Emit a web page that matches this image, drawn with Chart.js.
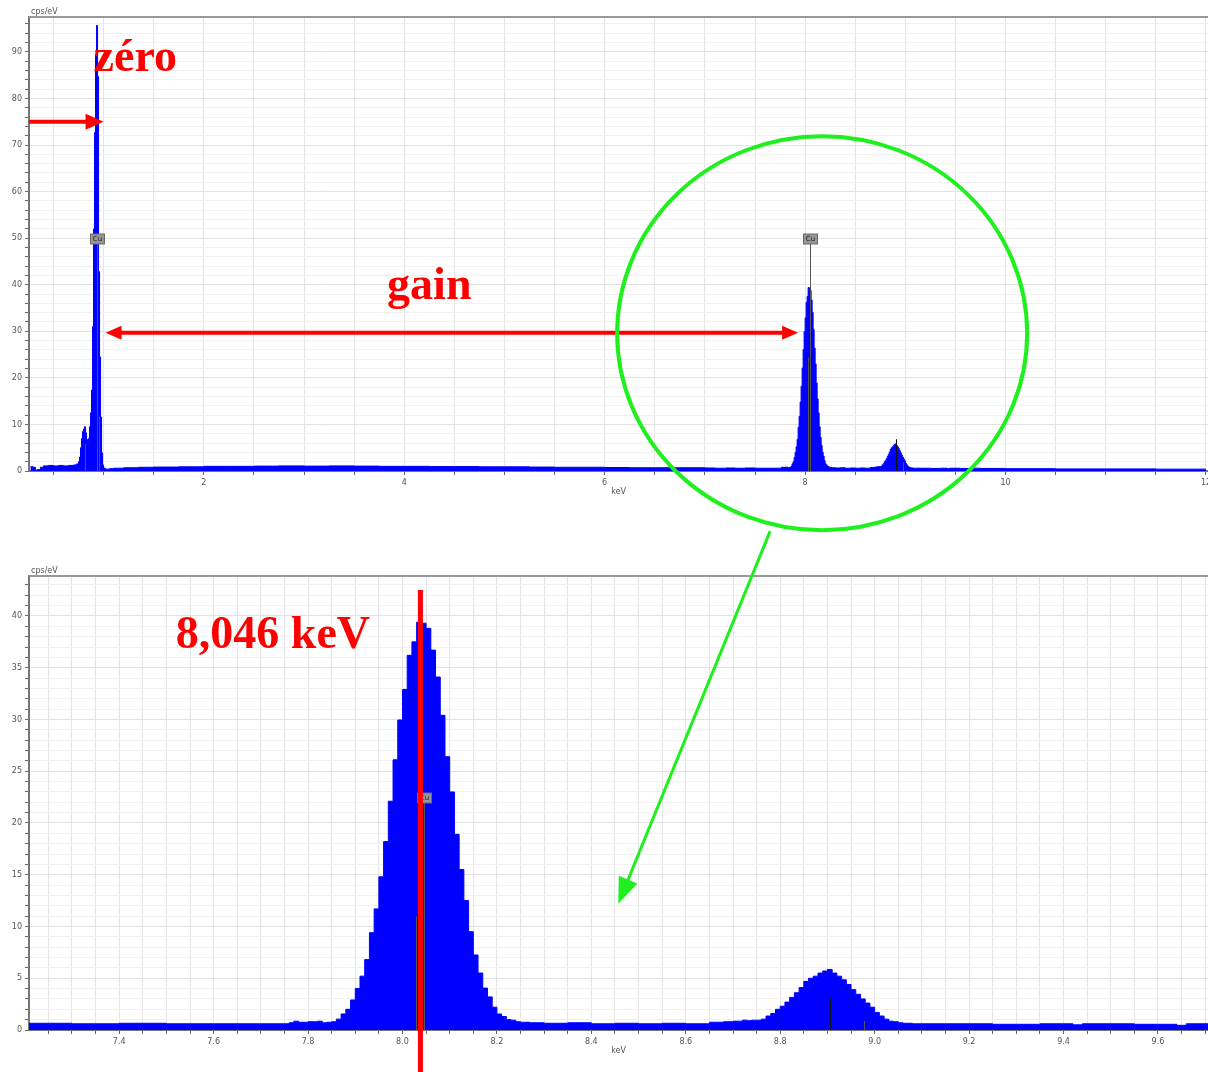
<!DOCTYPE html>
<html>
<head>
<meta charset="utf-8">
<script src="https://cdn.jsdelivr.net/npm/chart.js@4.4.1/dist/chart.umd.min.js"></script>
<style>
html, body { margin: 0; padding: 0; background: #fff; overflow: hidden; }
#wrap { position: relative; width: 1208px; height: 1072px; }
#top { position: absolute; left: 0; top: 0; }
#bot { position: absolute; left: 0; top: 556px; }
#ann { position: absolute; left: 0; top: 0; pointer-events: none; }
</style>
</head>
<body>
<div id="wrap">
  <canvas id="top" width="1208" height="497"></canvas>
  <canvas id="bot" width="1208" height="500"></canvas>
  <canvas id="ann" width="1208" height="1072"></canvas>
</div>
<script>
// spectrum, 10 eV bins (energy = left edge of bin, keV), counts in cps/eV
var lowE = [0.27, 0.30, 0.32, 0.34, 0.37, 0.40, 0.45, 0.50, 0.55, 0.60, 0.65, 0.70, 0.73, 0.75, 0.76, 0.77, 0.78, 0.79];
var lowY = [0.9, 0.8, 0.2, 0.3, 0.8, 1.1, 1.2, 1.1, 1.2, 1.1, 1.2, 1.3, 1.5, 2.0, 3.0, 5.0, 7.0, 8.5];

var cuLE = [0.80, 0.81, 0.82, 0.83, 0.84, 0.85, 0.86, 0.87, 0.88, 0.89, 0.90,
            0.91, 0.92, 0.93, 0.94, 0.95, 0.96, 0.97, 0.98, 0.99, 1.00];
var cuLY = [9.0, 9.5, 8.2, 6.8, 6.3, 7.0, 9.5, 12.5, 17.4, 31, 52,
            72.7, 89.5, 95.7, 84.7, 42.8, 24.5, 11.6, 3.9, 1.3, 0.6];

var bgE = [1.02, 1.06, 1.10, 1.20, 1.35, 1.50, 1.75, 2.00, 2.25, 2.50, 2.75, 3.00, 3.25, 3.50, 3.75,
           4.00, 4.25, 4.50, 4.75, 5.00, 5.25, 5.50, 5.75, 6.00, 6.25, 6.50, 6.75, 7.00, 7.10, 7.21,
           7.30, 7.40, 7.50, 7.60, 7.70, 7.76, 7.77, 7.78, 7.80, 7.82];
var bgY = [0.4, 0.5, 0.6, 0.7, 0.8, 0.85, 0.9, 1.0, 1.0, 1.05, 1.1, 1.05, 1.1, 1.05, 1.0,
           1.0, 0.95, 0.95, 0.9, 0.9, 0.85, 0.8, 0.8, 0.75, 0.7, 0.7, 0.7, 0.65, 0.6, 0.65,
           0.6, 0.65, 0.6, 0.6, 0.6, 0.7, 0.85, 0.75, 0.8, 0.85];

var cuKaE = [7.83, 7.84, 7.85, 7.86, 7.87, 7.88, 7.89, 7.90, 7.91, 7.92, 7.93, 7.94, 7.95, 7.96, 7.97,
             7.98, 7.99, 8.00, 8.01, 8.02, 8.03, 8.04, 8.05, 8.06, 8.07, 8.08, 8.09, 8.10, 8.11, 8.12,
             8.13, 8.14, 8.15, 8.16, 8.17, 8.18, 8.19, 8.20, 8.21, 8.22, 8.23, 8.24, 8.25];
var cuKaY = [0.7, 0.75, 0.8, 1.05, 1.55, 2.0, 2.9, 4.0, 5.2, 6.8, 9.4, 11.7, 14.8, 18.2, 22.1,
             26.1, 29.95, 32.9, 36.2, 37.5, 39.4, 39.3, 38.8, 36.7, 34.1, 30.4, 26.4, 23.0, 18.9, 15.5,
             12.5, 9.5, 7.25, 5.5, 4.05, 3.2, 2.2, 1.55, 1.3, 1.0, 0.95, 0.8, 0.75];

var bg2E = [8.27, 8.30, 8.35, 8.40, 8.45, 8.50, 8.55, 8.60, 8.65, 8.68, 8.70, 8.72];
var bg2Y = [0.7, 0.65, 0.7, 0.6, 0.65, 0.6, 0.65, 0.6, 0.75, 0.8, 0.85, 0.95];

var cuKbE = [8.73, 8.74, 8.75, 8.76, 8.77, 8.78, 8.79, 8.80, 8.81, 8.82, 8.83, 8.84, 8.85, 8.86, 8.87,
             8.88, 8.89, 8.90, 8.91, 8.92, 8.93, 8.94, 8.95, 8.96, 8.97, 8.98, 8.99, 9.00, 9.01, 9.02,
             9.03, 9.04, 9.05, 9.06];
var cuKbY = [0.9, 0.95, 0.95, 1.05, 1.35, 1.6, 2.0, 2.3, 2.7, 3.15, 3.6, 4.1, 4.7, 5.0, 5.2,
             5.5, 5.7, 5.85, 5.5, 5.2, 4.85, 4.4, 3.9, 3.45, 3.0, 2.6, 2.2, 1.7, 1.35, 1.05,
             0.85, 0.8, 0.7, 0.65];

var highE = [9.08, 9.15, 9.25, 9.35, 9.42, 9.44, 9.55, 9.64, 9.66, 9.75, 10.0, 10.5, 11.0, 11.5, 12.0];
var highY = [0.6, 0.6, 0.55, 0.6, 0.5, 0.6, 0.55, 0.45, 0.6, 0.55, 0.5, 0.45, 0.45, 0.4, 0.4];

// element marker lines (height as fraction of the plot)
var markerKeV = [0.811, 0.930, 0.950, 8.028, 8.046, 8.905, 8.977];
var markerFrac = [0.06, 0.50, 0.12, 0.25, 0.50, 0.07, 0.02];
var markerLabel = ['', 'Cu', '', '', 'Cu', '', ''];

var redLineKeV = 8.038;

var spectrum = [];
[[lowE, lowY], [cuLE, cuLY], [bgE, bgY], [cuKaE, cuKaY], [bg2E, bg2Y], [cuKbE, cuKbY], [highE, highY]]
  .forEach(function(s) {
    for (var i = 0; i < s[0].length; i++) spectrum.push({x: s[0][i], y: s[1][i]});
  });

var tickFont = {family: 'DejaVu Sans', size: 8};

var markerPlugin = {
  id: 'markers',
  afterDatasetsDraw: function(chart) {
    var ctx = chart.ctx, a = chart.chartArea, x = chart.scales.x;
    ctx.save();
    for (var i = 0; i < markerKeV.length; i++) {
      var e = markerKeV[i];
      if (e < x.min || e > x.max) continue;
      var px = Math.round(x.getPixelForValue(e)) + 0.5;
      var top = a.bottom - markerFrac[i] * (a.bottom - a.top);
      ctx.strokeStyle = i == 5 ? '#111' : '#555';
      ctx.lineWidth = 1;
      ctx.beginPath();
      ctx.moveTo(px, top);
      ctx.lineTo(px, a.bottom);
      ctx.stroke();
      if (markerLabel[i]) {
        ctx.fillStyle = '#969696';
        ctx.fillRect(px - 7, top - 10, 14, 10);
        ctx.strokeStyle = '#6a6a6a';
        ctx.strokeRect(px - 7, top - 10, 14, 10);
        ctx.fillStyle = '#222';
        ctx.font = '7px DejaVu Sans';
        ctx.textAlign = 'center';
        ctx.textBaseline = 'middle';
        ctx.fillText(markerLabel[i], px, top - 4.5);
      }
    }
    ctx.restore();
  }
};

var framePlugin = {
  id: 'frame',
  afterDraw: function(chart) {
    var ctx = chart.ctx, a = chart.chartArea;
    ctx.save();
    ctx.strokeStyle = '#999';
    ctx.lineWidth = 2;
    ctx.beginPath();
    ctx.moveTo(a.left, a.top);
    ctx.lineTo(a.right, a.top);
    ctx.stroke();
    ctx.fillStyle = '#555';
    ctx.font = '8px DejaVu Sans';
    ctx.textAlign = 'left';
    ctx.textBaseline = 'bottom';
    ctx.fillText('cps/eV', a.left + 2, a.top - 1);
    ctx.restore();
  }
};

function makeChart(id, xmin, xmax, xstep, xLabel, ymax, ystep, yLabel, padTop) {
  return new Chart(document.getElementById(id), {
    type: 'line',
    data: {
      datasets: [{
        data: spectrum,
        stepped: 'before',
        fill: 'origin',
        backgroundColor: '#0000ff',
        borderColor: '#0000ff',
        borderWidth: 1,
        pointRadius: 0
      }]
    },
    options: {
      responsive: false,
      animation: false,
      devicePixelRatio: 1,
      layout: {padding: {top: padTop, left: 0, right: 0, bottom: 0}},
      plugins: {legend: {display: false}, tooltip: {enabled: false}},
      scales: {
        x: {
          type: 'linear',
          min: xmin,
          max: xmax,
          ticks: {
            stepSize: xstep,
            maxTicksLimit: 1000,
            autoSkip: false,
            includeBounds: false,
            maxRotation: 0,
            padding: 3,
            font: tickFont,
            color: '#555',
            callback: xLabel
          },
          grid: {color: '#e4e4e4', tickColor: '#666', tickLength: 4},
          border: {color: '#777', width: 2},
          title: {display: true, text: 'keV', font: tickFont, color: '#555', padding: 0},
          afterFit: function(s) { s.height = 26; s.paddingLeft = 0; s.paddingRight = 0; }
        },
        y: {
          min: 0,
          max: ymax,
          ticks: {
            stepSize: ystep,
            maxTicksLimit: 1000,
            autoSkip: false,
            includeBounds: false,
            padding: 3,
            font: tickFont,
            color: '#555',
            callback: yLabel
          },
          grid: {
            color: function(c) { return c.tick && yLabel(c.tick.value) !== '' ? '#e2e2e2' : '#f1f1f1'; },
            tickColor: '#666',
            tickLength: 4
          },
          border: {color: '#777', width: 2},
          afterFit: function(s) { s.width = 29; s.paddingTop = 0; s.paddingBottom = 0; }
        }
      }
    },
    plugins: [markerPlugin, framePlugin]
  });
}

var topChart = makeChart('top', 0.256, 12.02, 0.5,
  function(v) { return v % 2 === 0 ? String(v) : ''; },
  97.5, 2,
  function(v) { return v % 10 === 0 ? String(v) : ''; },
  17);

var botChart = makeChart('bot', 7.209, 9.706, 0.05,
  function(v) { return Math.abs(v * 5 - Math.round(v * 5)) < 1e-6 ? v.toFixed(1) : ''; },
  43.86, 1,
  function(v) { return v % 5 === 0 ? String(v) : ''; },
  20);

// annotations on top of both charts
function arrowHead(ctx, x, y, ang, len, half) {
  var c = Math.cos(ang), s = Math.sin(ang);
  ctx.beginPath();
  ctx.moveTo(x, y);
  ctx.lineTo(x - len * c + half * s, y - len * s - half * c);
  ctx.lineTo(x - len * c - half * s, y - len * s + half * c);
  ctx.closePath();
  ctx.fill();
}

function drawAnnotations() {
  var ctx = document.getElementById('ann').getContext('2d');
  var tx = topChart.scales.x, ty = topChart.scales.y;
  var bx = botChart.scales.x, by = botChart.scales.y;
  var botOff = 556;
  var red = '#ff0000', green = '#1ef01e';

  ctx.font = 'bold 46px "Liberation Serif"';
  ctx.fillStyle = red;
  ctx.textBaseline = 'alphabetic';

  // zero
  ctx.textAlign = 'left';
  ctx.fillText('zéro', tx.getPixelForValue(0.9), ty.getPixelForValue(86));
  var zy = ty.getPixelForValue(75);
  var zx = tx.getPixelForValue(1.0);
  ctx.strokeStyle = red;
  ctx.lineWidth = 4;
  ctx.beginPath();
  ctx.moveTo(tx.left, zy);
  ctx.lineTo(zx - 14, zy);
  ctx.stroke();
  arrowHead(ctx, zx, zy, 0, 18, 8);

  // gain
  ctx.textAlign = 'center';
  ctx.fillText('gain', tx.getPixelForValue(4.25), ty.getPixelForValue(37));
  var gy = ty.getPixelForValue(29.7);
  var g1 = tx.getPixelForValue(1.02), g2 = tx.getPixelForValue(7.93);
  ctx.beginPath();
  ctx.moveTo(g1 + 12, gy);
  ctx.lineTo(g2 - 12, gy);
  ctx.stroke();
  arrowHead(ctx, g1, gy, Math.PI, 16, 7);
  arrowHead(ctx, g2, gy, 0, 16, 7);

  // 8,046 keV
  ctx.textAlign = 'left';
  ctx.fillText('8,046 keV', bx.getPixelForValue(7.52), botOff + by.getPixelForValue(36.9));

  // green circle around the K lines
  var cx = tx.getPixelForValue(8.17), cy = ty.getPixelForValue(29.6);
  var rx = 205, ry = 197;
  ctx.strokeStyle = green;
  ctx.lineWidth = 4;
  ctx.beginPath();
  ctx.ellipse(cx, cy, rx, ry, 0, 0, Math.PI * 2);
  ctx.stroke();

  // green arrow down to the zoomed chart
  var sx = cx - 52, sy = cy + ry + 1;
  var ex = bx.getPixelForValue(8.457), ey = botOff + by.getPixelForValue(12.2);
  var ang = Math.atan2(ey - sy, ex - sx);
  ctx.lineWidth = 3;
  ctx.beginPath();
  ctx.moveTo(sx, sy);
  ctx.lineTo(ex - 20 * Math.cos(ang), ey - 20 * Math.sin(ang));
  ctx.stroke();
  ctx.fillStyle = green;
  arrowHead(ctx, ex, ey, ang, 26, 10);

  // red line at the Cu K-alpha position
  var rxp = bx.getPixelForValue(redLineKeV);
  ctx.strokeStyle = red;
  ctx.lineWidth = 5;
  ctx.beginPath();
  ctx.moveTo(rxp, botOff + by.getPixelForValue(42.5));
  ctx.lineTo(rxp, 1072);
  ctx.stroke();
}

drawAnnotations();
</script>
</body>
</html>
